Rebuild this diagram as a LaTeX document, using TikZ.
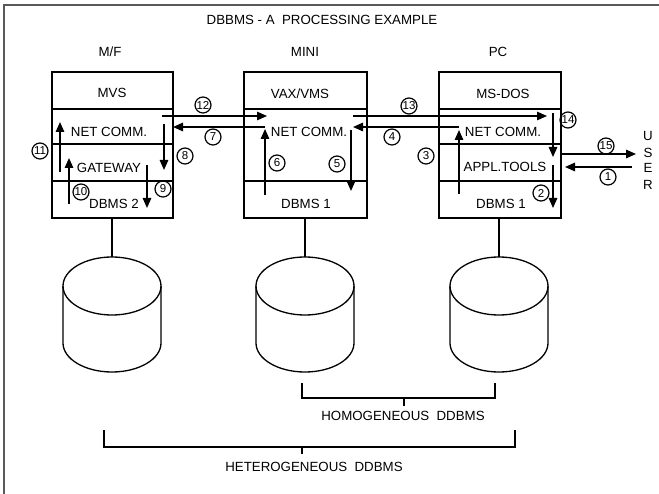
\documentclass[tikz,border=0pt]{standalone}
\usepackage{fontspec}
\setmainfont{Liberation Sans}
\usetikzlibrary{arrows.meta}
\begin{document}
\begin{tikzpicture}[x=1pt,y=-1pt,
  lbl/.style={font=\fontsize{13.3}{15}\selectfont, inner sep=0pt, text height=9.5pt, text depth=0pt},
  num/.style={circle, draw, line width=1.2pt, minimum size=16pt, inner sep=0pt, font=\fontsize{11.5}{12}\selectfont},
  comp/.style={draw, line width=1.3pt, inner sep=0pt},
  flow/.style={line width=1.5pt, -{Triangle[length=10pt,width=8.5pt]}},
  thin/.style={line width=1.3pt},
  framel/.style={line width=1.5pt, draw=black!65}
]
\useasboundingbox (0,0) rectangle (659,494);
\draw[framel] (4,494) -- (4,5) -- (659,5);

% titles
\node[lbl] (title) at (322,20) {DBBMS - A\ \ PROCESSING EXAMPLE};
\node[lbl] (tmf) at (110,52) {M/F};
\node[lbl] (tmini) at (305,52) {MINI};
\node[lbl] (tpc) at (498,52) {PC};

% M/F box
\node[comp, minimum width=121pt, minimum height=37pt] (mfos) at (112.5,90.5) {};
\node[comp, minimum width=121pt, minimum height=35pt] (mfnet) at (112.5,126.5) {};
\node[comp, minimum width=121pt, minimum height=37pt] (mfgw) at (112.5,162.5) {};
\node[comp, minimum width=121pt, minimum height=37pt] (mfdb) at (112.5,199.5) {};
\node[lbl] (mfosT) at (112,93) {MVS};
\node[lbl] (mfnetT) at (109,132) {NET COMM.};
\node[lbl] (mfgwT) at (109,168) {GATEWAY};
\node[lbl] (mfdbT) at (114,204) {DBMS 2};

% MINI box
\node[comp, minimum width=123pt, minimum height=37pt] (mios) at (305.5,90.5) {};
\node[comp, minimum width=123pt, minimum height=72pt] (minet) at (305.5,145) {};
\node[comp, minimum width=123pt, minimum height=37pt] (midb) at (305.5,199.5) {};
\node[lbl] (miosT) at (300,94) {VAX/VMS};
\node[lbl] (minetT) at (309,132) {NET COMM.};
\node[lbl] (midbT) at (306,204) {DBMS 1};

% PC box
\node[comp, minimum width=122pt, minimum height=37pt] (pcos) at (500,90.5) {};
\node[comp, minimum width=122pt, minimum height=35pt] (pcnet) at (500,126.5) {};
\node[comp, minimum width=122pt, minimum height=37pt] (pcap) at (500,162.5) {};
\node[comp, minimum width=122pt, minimum height=37pt] (pcdb) at (500,199.5) {};
\node[lbl] (pcosT) at (503,94) {MS-DOS};
\node[lbl] (pcnetT) at (503,132) {NET COMM.};
\node[lbl] (pcapT) at (505,167) {APPL.TOOLS};
\node[lbl] (pcdbT) at (501,204) {DBMS 1};

% USER
\node[lbl] (uU) at (648,136) {U};
\node[lbl] (uS) at (648,153) {S};
\node[lbl] (uE) at (648,168) {E};
\node[lbl] (uR) at (648,185) {R};

% flow coordinates
\coordinate (a1s) at (632,167); \coordinate (a1e) at (565,167);
\coordinate (a2s) at (553,165); \coordinate (a2e) at (553,208);
\coordinate (a3s) at (459,194); \coordinate (a3e) at (459,130);
\coordinate (a4s) at (459,127); \coordinate (a4e) at (353,127);
\coordinate (a5s) at (351,130); \coordinate (a5e) at (351,191);
\coordinate (a6s) at (265,195); \coordinate (a6e) at (265,129);
\coordinate (a7s) at (265,127); \coordinate (a7e) at (173,127);
\coordinate (a8s) at (164,124); \coordinate (a8e) at (164,170);
\coordinate (a9s) at (147,165); \coordinate (a9e) at (147,208);
\coordinate (a10s) at (69,204); \coordinate (a10e) at (69,158);
\coordinate (a11s) at (60,172); \coordinate (a11e) at (60,122);
\coordinate (a12s) at (162,116); \coordinate (a12e) at (267,116);
\coordinate (a13s) at (353,116); \coordinate (a13e) at (547,116);
\coordinate (a14s) at (553,113); \coordinate (a14e) at (553,157);
\coordinate (a15s) at (561,154); \coordinate (a15e) at (636,154);

\foreach \i in {1,...,15} {\draw[flow] (a\i s) -- (a\i e);}

% numbers
\node[num] (n1) at (608,177) {1};
\node[num] (n2) at (541,193) {2};
\node[num] (n3) at (426,156) {3};
\node[num] (n4) at (392,137) {4};
\node[num] (n5) at (337,164) {5};
\node[num] (n6) at (277,163) {6};
\node[num] (n7) at (213,137) {7};
\node[num] (n8) at (185,156) {8};
\node[num] (n9) at (163,189) {9};
\node[num] (n10) at (81,192) {10};
\node[num] (n11) at (40,151) {11};
\node[num] (n12) at (203,105) {12};
\node[num] (n13) at (409,106) {13};
\node[num] (n14) at (568,120) {14};
\node[num] (n15) at (606,146) {15};

% cylinders
\foreach \n/\cx in {1/112,2/305,3/499} {
  \coordinate (cyl\n) at (\cx,257);
  \draw[thin] (\cx,286) ellipse [x radius=49pt, y radius=29pt];
  \draw[thin] (\cx-49,286) -- (\cx-49,343) arc[start angle=180, end angle=360, x radius=49pt, y radius=29pt] -- (\cx+49,286);
}
\draw[thin] (mfdb.south -| cyl1) -- (cyl1);
\draw[thin] (midb.south -| cyl2) -- (cyl2);
\draw[thin] (pcdb.south -| cyl3) -- (cyl3);

% brackets
\draw[thin] (302,383) -- (302,398) -- (495,398) -- (495,383);
\draw[thin] (404,398) -- (404,406);
\node[lbl] (homo) at (403,416) {HOMOGENEOUS\ \ DDBMS};
\draw[thin] (104,430) -- (104,447) -- (515,447) -- (515,430);
\draw[thin] (302,447) -- (302,454);
\node[lbl] (hetero) at (314,467) {HETEROGENEOUS\ \ DDBMS};
\end{tikzpicture}
\end{document}
